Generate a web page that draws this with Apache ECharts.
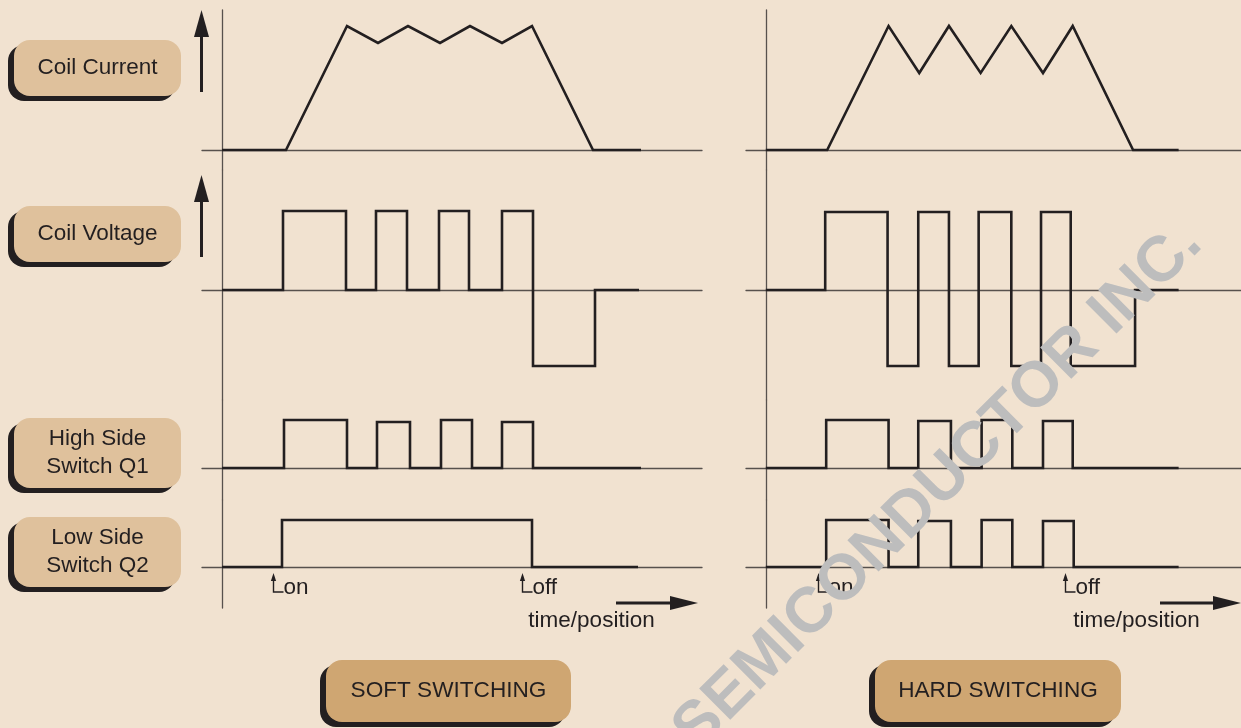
<!DOCTYPE html>
<html>
<head>
<meta charset="utf-8">
<title>Soft / hard switching</title>
<script src="https://cdn.jsdelivr.net/npm/echarts@6/dist/echarts.min.js"></script>
<style>
  html, body { margin: 0; padding: 0; background: #f1e2d0; }
  #main { width: 1241px; height: 728px; }
</style>
</head>
<body>
<div id="main"></div>
<script>
// time axis: 0 = vertical axis of each panel, 1 unit ~ 10px

// coil current (corner points)
const softCurrentT = [0, 6.4, 12.5, 15.6, 18.6, 21.8, 24.8, 28.0, 31.0, 37.1, 41.9];
const softCurrentV = [0, 0, 12.4, 10.7, 12.4, 10.7, 12.4, 10.7, 12.4, 0, 0];
const hardCurrentT = [0, 6.2, 12.4, 15.5, 18.5, 21.7, 24.8, 28.0, 31.0, 37.1, 41.7];
const hardCurrentV = [0, 0, 12.4, 7.7, 12.4, 7.7, 12.4, 7.7, 12.4, 0, 0];

// coil voltage (transition times + level held until next time)
const softVoltT = [0, 6.1, 12.4, 15.4, 18.5, 21.7, 24.7, 28.0, 31.1, 37.3, 41.7];
const softVoltV = [0, 7.9, 0, 7.9, 0, 7.9, 0, 7.9, -7.6, 0, 0];
const hardVoltT = [0, 6.0, 12.3, 15.4, 18.5, 21.5, 24.8, 27.8, 30.8, 37.3, 41.7];
const hardVoltV = [0, 7.8, -7.6, 7.8, -7.6, 7.8, -7.6, 7.8, -7.6, 0, 0];

// high side switch Q1
const softQ1T = [0, 6.2, 12.5, 15.5, 18.8, 21.9, 25.0, 28.0, 31.1, 41.9];
const softQ1V = [0, 4.8, 0, 4.6, 0, 4.8, 0, 4.6, 0, 0];
const hardQ1T = [0, 6.1, 12.4, 15.4, 18.7, 21.8, 24.9, 28.0, 31.0, 41.7];
const hardQ1V = [0, 4.8, 0, 4.7, 0, 4.8, 0, 4.7, 0, 0];

// low side switch Q2
const softQ2T = [0, 6.0, 31.0, 41.6];
const softQ2V = [0, 4.7, 0, 0];
const hardQ2T = [0, 6.1, 12.4, 15.4, 18.7, 21.8, 24.9, 28.0, 31.1, 41.7];
const hardQ2V = [0, 4.7, 0, 4.6, 0, 4.7, 0, 4.6, 0, 0];

// on / off instants (time units)
const softOnOff = [5.1, 30.0];
const hardOnOff = [5.3, 30.2];

const rowLabels = ['Coil Current', 'Coil Voltage', 'High Side\nSwitch Q1', 'Low Side\nSwitch Q2'];
const panelTitles = ['SOFT SWITCHING', 'HARD SWITCHING'];

const FAMILY = 'Liberation Sans';
const INK = '#231f20';
const AXIS = '#57514d';

let myChart = echarts.init(document.getElementById('main'));

// layout of the rows (px) and value ranges (10px per unit)
const rowTop = [10, 170, 400, 500];
const rowH = [160, 230, 100, 108];
const rowRange = [[-2, 14], [-11, 12], [-3.2, 6.8], [-4.1, 6.7]];
const panelLeft = [202, 746];

const panels = [
  [[softCurrentT, softCurrentV, false], [softVoltT, softVoltV, true], [softQ1T, softQ1V, true], [softQ2T, softQ2V, true]],
  [[hardCurrentT, hardCurrentV, false], [hardVoltT, hardVoltV, true], [hardQ1T, hardQ1V, true], [hardQ2T, hardQ2V, true]]
];

let grid = [], xAxis = [], yAxis = [], series = [];
panels.forEach((rows, p) => {
  rows.forEach((row, r) => {
    const k = grid.length;
    grid.push({ left: panelLeft[p], top: rowTop[r], width: 500, height: rowH[r], show: false });
    xAxis.push({
      gridIndex: k, type: 'value', min: -2, max: 48,
      axisLine: { show: true, onZero: true, lineStyle: { color: AXIS, width: 1.3 } },
      axisTick: { show: false }, axisLabel: { show: false }, splitLine: { show: false }
    });
    yAxis.push({
      gridIndex: k, type: 'value', min: rowRange[r][0], max: rowRange[r][1],
      axisLine: { show: true, onZero: true, lineStyle: { color: AXIS, width: 1.3 } },
      axisTick: { show: false }, axisLabel: { show: false }, splitLine: { show: false }
    });
    series.push({
      type: 'line',
      xAxisIndex: k, yAxisIndex: k,
      data: row[0].map((t, i) => [t, row[1][i]]),
      step: row[2] ? 'end' : false,
      symbol: 'none',
      lineStyle: { color: INK, width: 2.6, join: 'miter' },
      z: 3
    });
  });
});

let option = {
  backgroundColor: '#f1e2d0',
  animation: false,
  textStyle: { fontFamily: FAMILY },
  grid: grid,
  xAxis: xAxis,
  yAxis: yAxis,
  series: series
};
myChart.setOption(option);

// graphics: label boxes, arrows, markers, watermark
let g = [];

function txt(text, x, y, size, align, extra) {
  return Object.assign({
    type: 'text', z: 3,
    style: {
      text: text, x: x, y: y,
      fontSize: size, fontFamily: FAMILY, fill: INK,
      align: align, verticalAlign: 'middle', textAlign: align, textVerticalAlign: 'middle'
    }
  }, extra || {});
}

function box(x, y, w, h, fill, label, fontSize) {
  g.push({ type: 'rect', z: 1, shape: { x: x - 6, y: y + 5, width: w, height: h, r: 16 }, style: { fill: INK } });
  g.push({ type: 'rect', z: 2, shape: { x: x, y: y, width: w, height: h, r: 16 }, style: { fill: fill } });
  let t = txt(label, x + w / 2, y + h / 2, fontSize, 'center');
  t.style.lineHeight = 28;
  g.push(t);
}

// row labels on the left
const labelBoxes = [[40, 56], [206, 56], [418, 70], [517, 70]];
labelBoxes.forEach((b, i) => box(14, b[0], 167, b[1], '#dfc19c', rowLabels[i], 22.5));

// panel titles
box(326, 660, 245, 62, '#cfa672', panelTitles[0], 22.6);
box(875, 660, 246, 62, '#cfa672', panelTitles[1], 22.6);

// up arrows beside coil current / coil voltage
[[10, 92], [175, 257]].forEach(a => {
  g.push({ type: 'line', z: 3, shape: { x1: 201.5, y1: a[0] + 20, x2: 201.5, y2: a[1] }, style: { stroke: INK, lineWidth: 3 } });
  g.push({ type: 'polygon', z: 3, shape: { points: [[201.5, a[0]], [194, a[0] + 27], [209, a[0] + 27]] }, style: { fill: INK } });
});

// time/position arrows
[[616, 698, 591.5], [1160, 1241, 1136.5]].forEach(a => {
  g.push({ type: 'line', z: 3, shape: { x1: a[0], y1: 603, x2: a[1] - 20, y2: 603 }, style: { stroke: INK, lineWidth: 3 } });
  g.push({ type: 'polygon', z: 3, shape: { points: [[a[1], 603], [a[1] - 28, 596], [a[1] - 28, 610]] }, style: { fill: INK } });
  g.push(txt('time/position', a[2], 621, 22.5, 'center'));
});

// on / off markers under the low side row
[[softOnOff, 3], [hardOnOff, 7]].forEach(m => {
  ['on', 'off'].forEach((label, i) => {
    const px = myChart.convertToPixel({ gridIndex: m[1] }, [m[0][i], 0]);
    const x = Math.round(px[0]) + 0.5, base = px[1];
    g.push({ type: 'polyline', z: 3, shape: { points: [[x, base + 12], [x, base + 25], [x + 10, base + 25]] }, style: { stroke: INK, lineWidth: 1.4, fill: null } });
    g.push({ type: 'polygon', z: 3, shape: { points: [[x, base + 6], [x - 2.6, base + 14], [x + 2.6, base + 14]] }, style: { fill: INK } });
    g.push(txt(label, x + 10, base + 21, 22.5, 'left'));
  });
});

// watermark
let wm = txt('SEMICONDUCTOR INC.', 0, 0, 64, 'center', { z: 50, x: 938, y: 487, rotation: 45 * Math.PI / 180 });
wm.style.fontWeight = 'bold';
wm.style.fill = '#bdbdbd';
g.push(wm);

myChart.setOption({ graphic: g });

window.addEventListener('resize', function () { myChart.resize() });
</script>
</body>
</html>
